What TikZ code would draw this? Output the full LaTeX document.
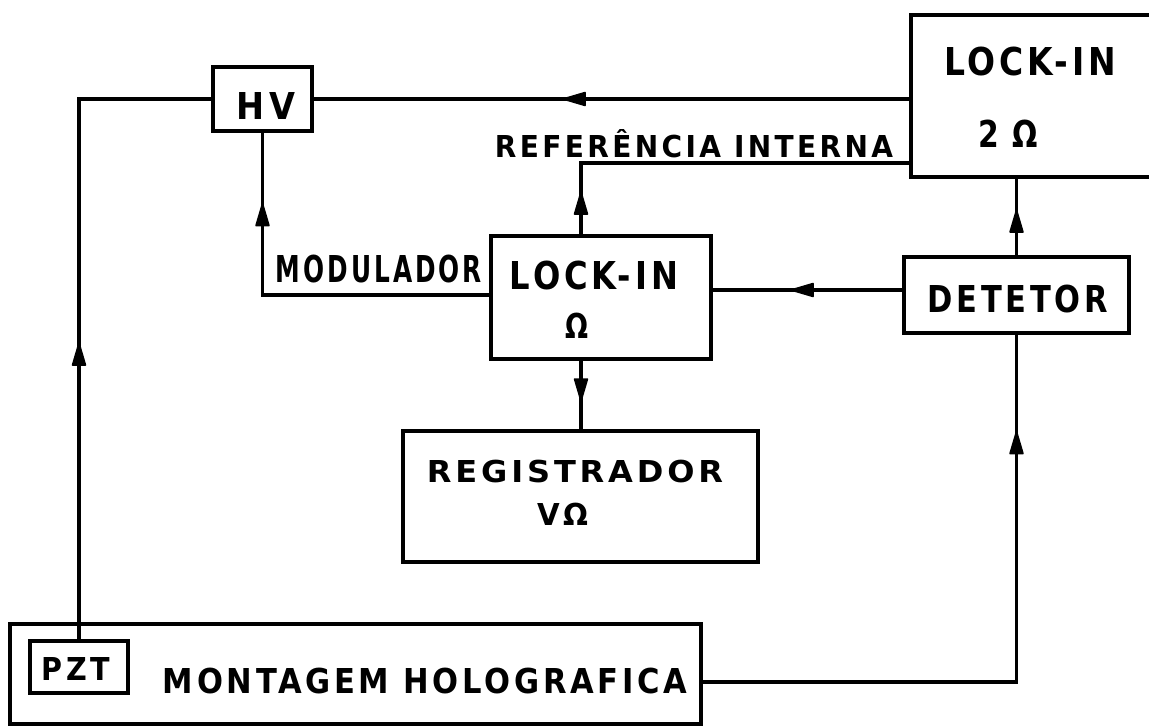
\documentclass[tikz,border=0pt]{standalone}
\usepackage{fontspec}
\setmainfont{DejaVu Sans}[LetterSpace=12]
\usetikzlibrary{decorations.markings,calc}
\newcommand\fitt[3]{\resizebox{#1pt}{#2pt}{\vphantom{X}\smash{\bfseries #3}}}
\begin{document}
\begin{tikzpicture}[x=1pt,y=-1pt,
  line width=3.2pt,
  box/.style={draw, rectangle, inner sep=0pt, outer sep=0pt},
  txt/.style={inner sep=0pt, outer sep=0pt},
  arr/.style={postaction={decorate},
    decoration={markings, mark=at position #1 with {\filldraw[line width=1.5pt, line join=round] (0pt,0pt) -- (-22pt,6.5pt) -- (-22pt,-6.5pt) -- cycle;}}}]
\useasboundingbox (0,0) rectangle (1149,726);
% boxes
\node[box, minimum width=99, minimum height=64] (hv) at (262.5,99) {};
\node[box, minimum width=254, minimum height=162] (l2) at (1038,96) {};
\node[box, minimum width=220, minimum height=123] (lo) at (601,297.5) {};
\node[box, minimum width=225, minimum height=76] (det) at (1016.5,295) {};
\node[box, minimum width=355, minimum height=131] (reg) at (580.5,496.5) {};
\node[box, minimum width=691, minimum height=100] (mont) at (355.5,674) {};
\node[box, minimum width=98, minimum height=52] (pzt) at (79,667) {};
% texts
\node[txt] (hvt) at (266,106) {\fitt{58}{27}{HV}};
\node[txt] (l2a) at (1030,61) {\fitt{172}{28}{LOCK-IN}};
\node[txt] (l2b) at (1008,133.5) {\fitt{60}{27}{2 Ω}};
\node[txt] (loa) at (594,275) {\fitt{168}{28}{LOCK-IN}};
\node[txt] (lob) at (576.5,325.5) {\fitt{23}{25}{Ω}};
\node[txt] (dett) at (1018,298.5) {\fitt{180}{27}{DETETOR}};
\node[txt] (rega) at (575,471) {\fitt{296}{22}{REGISTRADOR}};
\node[txt] (regb) at (562.5,514) {\fitt{51}{22}{VΩ}};
\node[txt] (montt) at (425,680.5) {\fitt{524}{25}{MONTAGEM HOLOGRAFICA}};
\node[txt] (pztt) at (76,668.5) {\fitt{68}{23}{PZT}};
\node[txt] (modt) at (379,268.5) {\fitt{206}{27}{MODULADOR}};
\node[txt] (reft) at (694,146) {\fitt{398}{22}{REFERÊNCIA INTERNA}};
% connectors
\draw[arr=348pt] (l2.west |- hv.east) -- (hv.east);
\draw[arr=298pt] (pzt.north) |- (hv.west);
\coordinate (lw) at ($(lo.west)+(0,-2.5)$);
\draw[arr=320pt] (lw) -| (hv.south);
\coordinate (rtop) at ($(lo.north)+(-20,0)$);
\coordinate (l2r) at ($(l2.south west)+(0,-14)$);
\draw[arr=44pt] (rtop) |- (l2r);
\coordinate (dw) at ($(det.west)+(0,-5)$);
\draw[arr=113pt] (dw) -- (dw -| lo.east);
\draw[arr=47pt] (det.north) -- (det.north |- l2.south);
\coordinate (me) at ($(mont.east)+(0,8)$);
\draw[arr=566pt] (me) -| (det.south);
\coordinate (rbot) at ($(lo.south)+(-20,0)$);
\draw[arr=42pt] (rbot) -- (rbot |- reg.north);
\end{tikzpicture}
\end{document}
